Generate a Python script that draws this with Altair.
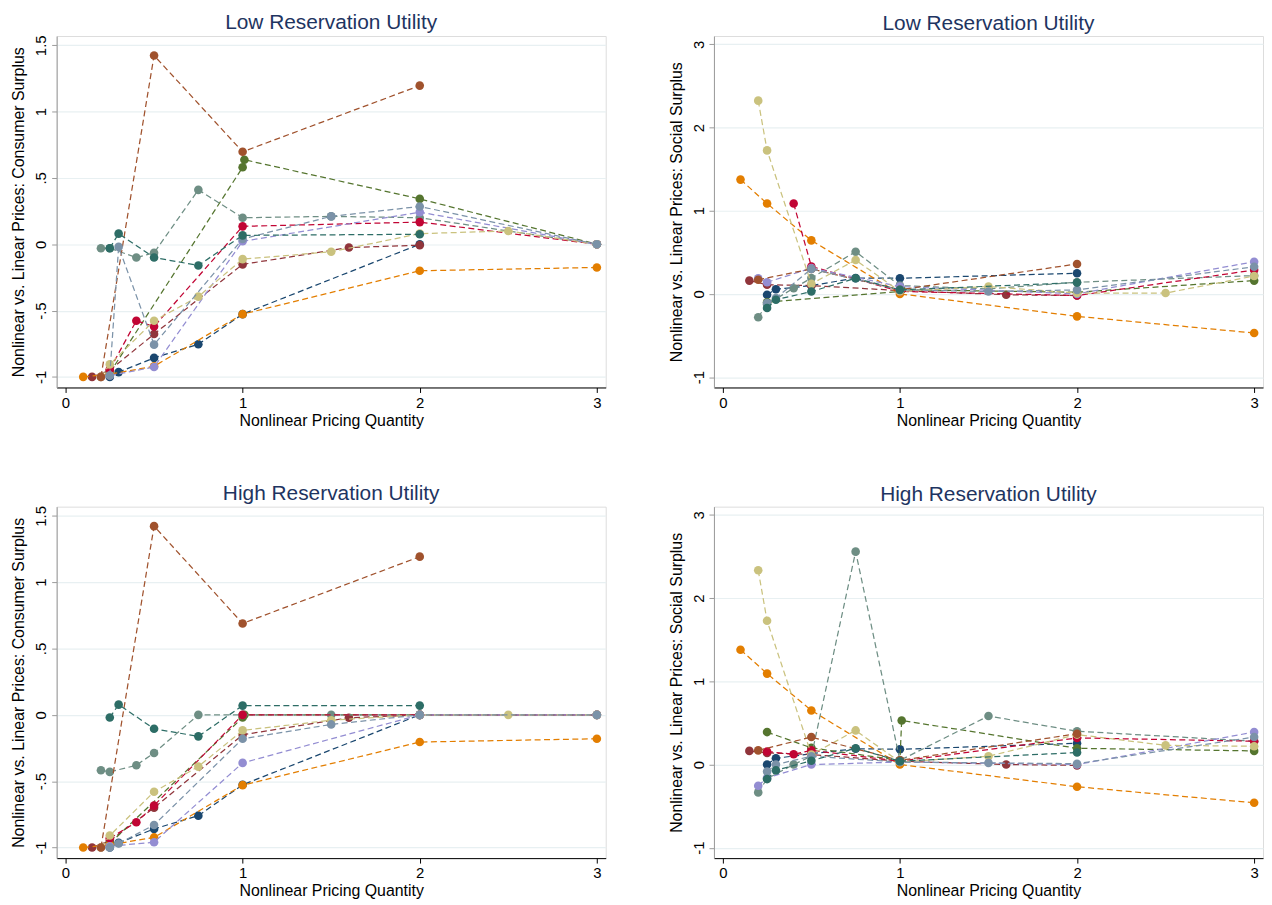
import altair as alt
import pandas as pd

SERIES = ["navy", "maroon", "forest_green", "dkorange", "teal", "cranberry",
          "lavender", "khaki", "sienna", "emidblue", "emerald"]
COLORS = ["#1a476f", "#90353b", "#55752f", "#e37e00", "#6e8e84", "#c10534",
          "#938dd2", "#cac27e", "#a0522d", "#7b92a8", "#2d6d66"]

# x grid of each series (Nonlinear Pricing Quantity)
X_NAVY = [0.25, 0.3, 0.5, 0.75, 1, 2]
X_MAROON = [0.15, 0.25, 0.5, 1, 1.6, 2]
X_GREEN = [0.25, 0.5, 1, 1.01, 2, 3]
X_ORANGE = [0.1, 0.25, 0.5, 1, 2, 3]
X_TEAL = [0.2, 0.25, 0.4, 0.5, 0.75, 1, 1.5, 2, 3]
X_CRANBERRY = [0.25, 0.4, 0.5, 1, 2, 3]
X_LAVENDER = [0.2, 0.25, 0.5, 1, 2, 3]
X_KHAKI = [0.2, 0.25, 0.5, 0.75, 1, 1.5, 2, 2.5, 3]
X_SIENNA = [0.2, 0.5, 1, 2]
X_EMIDBLUE = [0.25, 0.3, 0.5, 1, 1.5, 2, 3]
X_EMERALD = [0.25, 0.3, 0.5, 0.75, 1, 2]
XGRID = dict(zip(SERIES, [X_NAVY, X_MAROON, X_GREEN, X_ORANGE, X_TEAL, X_CRANBERRY,
                          X_LAVENDER, X_KHAKI, X_SIENNA, X_EMIDBLUE, X_EMERALD]))

# Low reservation utility: consumer surplus
LOW_CS = {
    "navy": [-1.0, -0.964, -0.857, -0.754, -0.527, 0.0],
    "maroon": [-1.0, -0.95, -0.677, -0.152, -0.025, -0.007],
    "forest_green": [-0.97, None, 0.58, 0.637, 0.342, 0.0],
    "dkorange": [-1.0, -0.98, -0.92, -0.527, -0.2, -0.175],
    "teal": [-0.03, -0.03, -0.10, -0.065, 0.41, 0.20, 0.21, 0.20, 0.0],
    "cranberry": [-0.944, -0.577, -0.62, 0.135, 0.167, 0.0],
    "lavender": [-1.0, -0.99, -0.926, 0.022, 0.242, 0.0],
    "khaki": [-1.0, -0.906, -0.577, -0.395, -0.112, -0.057, 0.08, 0.1, 0.0],
    "sienna": [-1.0, 1.423, 0.697, 1.196],
    "emidblue": [-0.99, -0.02, -0.757, 0.04, 0.21, 0.285, 0.0],
    "emerald": [-0.03, 0.08, -0.10, -0.16, 0.067, 0.075],
}
# Low reservation utility: social surplus
LOW_SS = {
    "navy": [-0.01, 0.056, 0.10, 0.19, 0.188, 0.248],
    "maroon": [0.16, 0.11, 0.10, 0.04, -0.01, -0.02],
    "forest_green": [-0.10, None, 0.03, 0.05, 0.02, 0.16],
    "dkorange": [1.374, 1.086, 0.643, 0.0, -0.27, -0.47],
    "teal": [-0.28, -0.123, 0.068, 0.19, 0.507, 0.10, 0.06, 0.14, 0.22],
    "cranberry": [None, 1.086, 0.33, 0.03, -0.02, 0.287],
    "lavender": [0.188, 0.14, 0.31, 0.088, 0.0, 0.387],
    "khaki": [2.323, 1.725, 0.12, 0.407, 0.03, 0.088, 0.01, 0.01, 0.215],
    "sienna": [0.17, 0.30, 0.05, 0.36],
    "emidblue": [-0.11, -0.05, 0.30, 0.05, 0.028, 0.048, 0.327],
    "emerald": [-0.17, -0.07, 0.028, 0.188, 0.048, 0.136],
}
# High reservation utility: consumer surplus
HIGH_CS = {
    "navy": [-1.0, -0.965, -0.86, -0.76, -0.527, 0.0],
    "maroon": [-1.0, -0.95, -0.70, -0.15, -0.022, 0.0],
    "forest_green": [-0.97, None, -0.02, 0.0, 0.0, 0.0],
    "dkorange": [-1.0, -0.98, -0.924, -0.53, -0.205, -0.18],
    "teal": [-0.417, -0.43, -0.38, -0.287, 0.0, 0.0, 0.0, 0.0, 0.0],
    "cranberry": [-0.93, -0.81, -0.684, 0.0, 0.0, 0.0],
    "lavender": [-1.0, -0.99, -0.96, -0.362, 0.0, 0.0],
    "khaki": [-1.0, -0.91, -0.58, -0.39, -0.117, -0.04, 0.0, 0.0, 0.0],
    "sienna": [-1.0, 1.423, 0.689, 1.193],
    "emidblue": [-1.0, -0.97, -0.83, -0.18, -0.072, 0.0, 0.0],
    "emerald": [-0.02, 0.077, -0.105, -0.162, 0.07, 0.07],
}
# High reservation utility: social surplus
HIGH_SS = {
    "navy": [0.0, 0.075, 0.13, 0.19, 0.183, 0.255],
    "maroon": [0.164, 0.14, 0.12, 0.04, 0.0, -0.01],
    "forest_green": [0.39, 0.2, 0.05, 0.53, 0.195, 0.164],
    "dkorange": [1.38, 1.093, 0.65, 0.0, -0.267, -0.46],
    "teal": [-0.335, -0.17, 0.0, 0.1, 2.559, 0.05, 0.583, 0.40, 0.28],
    "cranberry": [0.156, 0.123, 0.17, 0.04, 0.32, 0.28],
    "lavender": [-0.255, -0.16, 0.0, 0.03, 0.0, 0.39],
    "khaki": [2.335, 1.728, 0.12, 0.41, 0.03, 0.10, 0.36, 0.23, 0.22],
    "sienna": [0.17, 0.33, 0.05, 0.37],
    "emidblue": [-0.085, 0.0, 0.10, 0.03, 0.02, 0.01, 0.33],
    "emerald": [-0.175, -0.07, 0.045, 0.195, 0.04, 0.144],
}

X_TICKS = [0, 1, 2, 3]
CS_TICKS = [-1, -0.5, 0, 0.5, 1, 1.5]
SS_TICKS = [-1, 0, 1, 2, 3]

FONT = "Liberation Sans"
TITLE_COLOR = "#1e3461"


def panel(ydict, title, ytitle, ydomain, yticks):
    rows = []
    for i, s in enumerate(SERIES):
        for x, y in zip(XGRID[s], ydict[s]):
            if y is not None:
                rows.append({"s": s, "i": i, "x": x, "y": y})
    df = pd.DataFrame(rows)
    base = alt.Chart(df)
    xenc = alt.X(
        "x:Q",
        scale=alt.Scale(domain=[-0.05, 3.05], nice=False, zero=False),
        axis=alt.Axis(
            values=X_TICKS, title="Nonlinear Pricing Quantity", grid=False,
            labelFontSize=15, titleFontSize=16, labelFont=FONT, titleFont=FONT,
            titleFontWeight="normal", labelColor="#000000", titleColor="#000000",
            domainColor="#000000", tickColor="#000000", tickSize=5,
            labelPadding=3, titlePadding=2, labelFlush=False,
        ),
    )
    yenc = alt.Y(
        "y:Q",
        scale=alt.Scale(domain=ydomain, nice=False, zero=False),
        axis=alt.Axis(
            values=yticks, title=ytitle, grid=True, gridColor="#e8f0f2", gridWidth=1.2,
            labelExpr="replace(toString(datum.value), '0.', '.')",
            labelAngle=270, labelAlign="center", labelBaseline="bottom",
            labelFontSize=15, titleFontSize=16, labelFont=FONT, titleFont=FONT,
            titleFontWeight="normal", labelColor="#000000", titleColor="#000000",
            domainColor="#9a9a9a", tickColor="#9a9a9a", tickSize=5,
            labelPadding=3, titlePadding=8, minExtent=22, maxExtent=22,
            labelFlush=False,
        ),
    )
    layers = []
    for s, c in zip(SERIES, COLORS):
        b = base.transform_filter(alt.datum.s == s)
        layers.append(
            b.mark_line(color=c, strokeDash=[6, 3.5], strokeWidth=1.25).encode(
                x=xenc, y=yenc, order="x:Q")
        )
        layers.append(
            b.mark_circle(color=c, size=75, opacity=1).encode(x=xenc, y=yenc)
        )
    return alt.layer(*layers).properties(
        width=553, height=354,
        title=alt.TitleParams(title, fontSize=21, font=FONT, fontWeight="normal",
                              color=TITLE_COLOR, anchor="middle", offset=2),
    )


p1 = panel(LOW_CS, "Low Reservation Utility",
           "Nonlinear vs. Linear Prices: Consumer Surplus", [-1.08, 1.57], CS_TICKS)
p2 = panel(LOW_SS, "Low Reservation Utility",
           "Nonlinear vs. Linear Prices: Social Surplus", [-1.125, 3.1], SS_TICKS)
p3 = panel(HIGH_CS, "High Reservation Utility",
           "Nonlinear vs. Linear Prices: Consumer Surplus", [-1.08, 1.57], CS_TICKS)
p4 = panel(HIGH_SS, "High Reservation Utility",
           "Nonlinear vs. Linear Prices: Social Surplus", [-1.125, 3.1], SS_TICKS)

top = alt.hconcat(p1, p2, spacing=61)
bottom = alt.hconcat(p3, p4, spacing=61)
chart = (
    alt.vconcat(top, bottom, spacing=53)
    .properties(padding={"left": 2, "top": 0, "right": 0, "bottom": 0})
    .configure_view(stroke=None)
    .configure(font=FONT, background="#ffffff")
)

chart.save("out.html", embed_options={"renderer": "svg", "actions": False})
